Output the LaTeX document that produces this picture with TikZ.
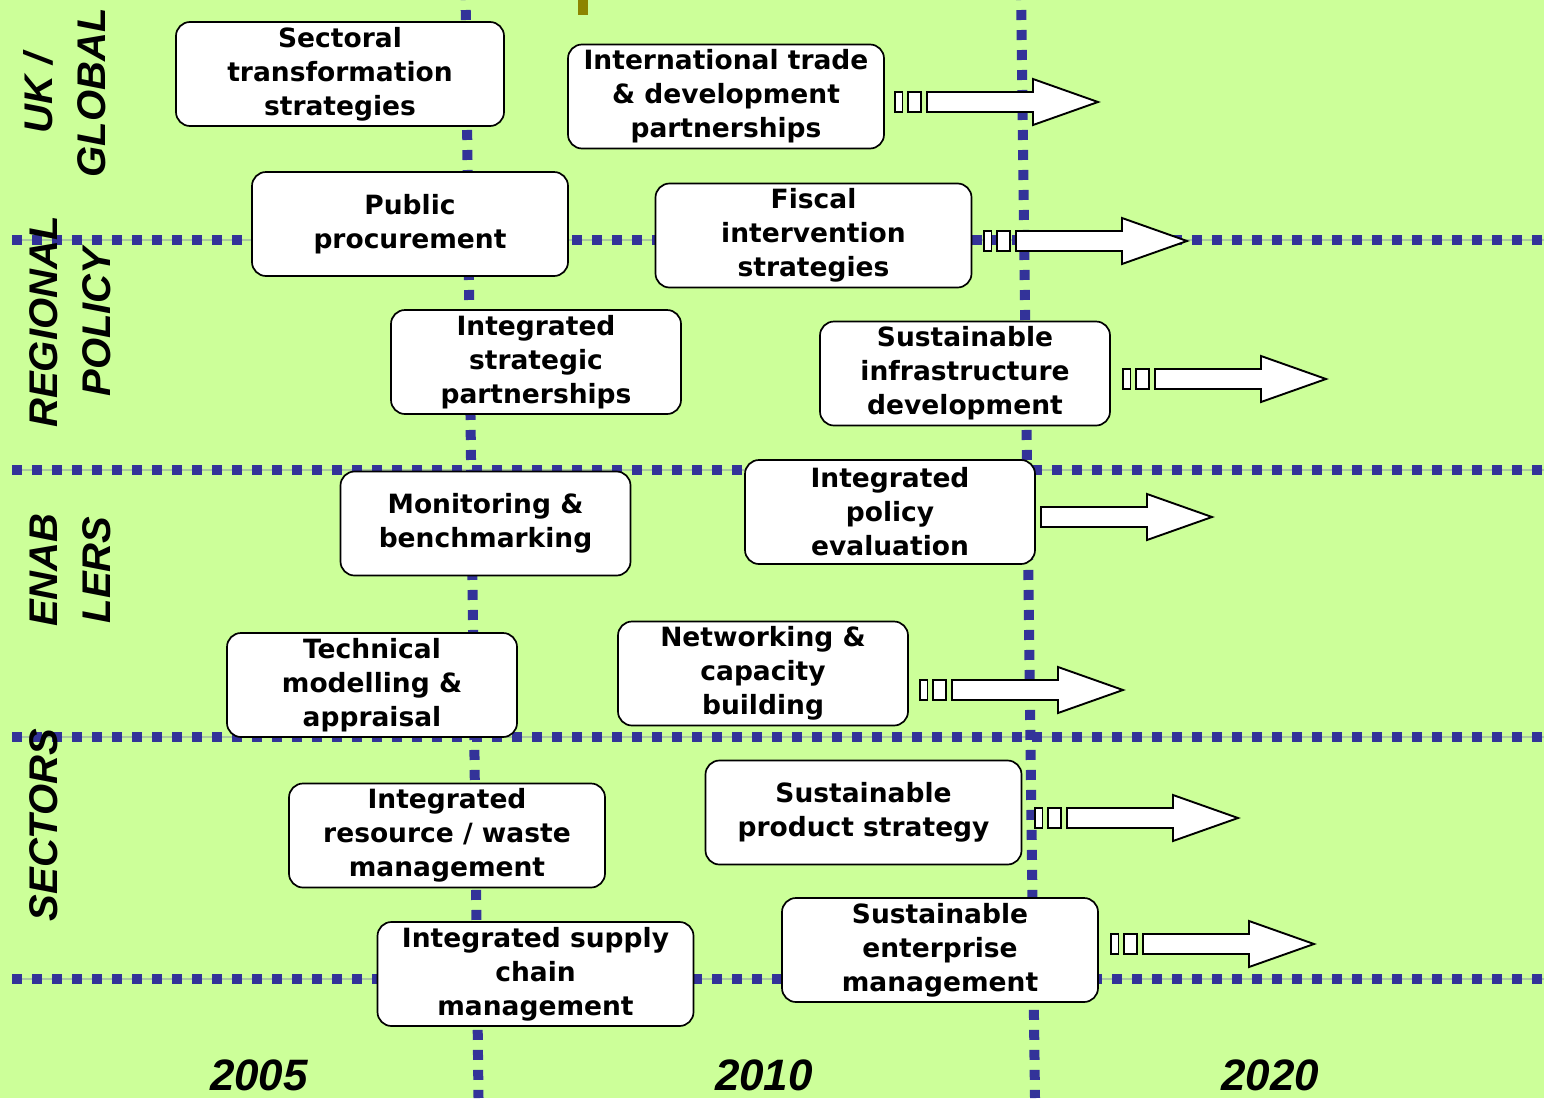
\documentclass[tikz,border=0pt]{standalone}
\usepackage{fontspec}
\setmainfont{DejaVu Sans}
\newfontfamily\labfont{Liberation Sans}
\definecolor{bggreen}{HTML}{CCFF99}
\definecolor{dotblue}{HTML}{333399}
\definecolor{faintline}{HTML}{A9C9A0}
\definecolor{olivemark}{HTML}{8C8500}
\begin{document}
\begin{tikzpicture}[x=1pt,y=-1pt,
  box/.style={draw=black, line width=1.7pt, fill=white, rounded corners=14pt,
    minimum height=104pt, inner sep=0pt, align=center,
    font=\fontsize{26.5}{34}\selectfont\bfseries},
  wide/.style={box, minimum width=316pt},
  narrow/.style={box, minimum width=290pt},
  hdots/.style={dotblue, line width=10pt, dash pattern=on 10pt off 10pt},
  vdots/.style={dotblue, line width=10pt, dash pattern=on 10pt off 10pt},
  fline/.style={faintline, line width=1.5pt},
  arrowline/.style={draw=black, fill=white, line width=1.9pt, line join=miter},
  sidelabel/.style={rotate=90, align=center, inner sep=0pt,
    font=\labfont\fontsize{40}{53}\selectfont\bfseries\itshape},
  yearlabel/.style={anchor=base, inner sep=0pt,
    font=\labfont\fontsize{44}{44}\selectfont\bfseries\itshape},
  futarrow/.pic={
    \path[arrowline] (0,-10) rectangle (7.5,10);
    \path[arrowline] (13,-10) rectangle (26,10);
    \path[arrowline] (32,-10) -- (138,-10) -- (138,-23) -- (203,0) -- (138,23) -- (138,10) -- (32,10) -- cycle;
  },
  plainarrow/.pic={
    \path[arrowline] (32,-10) -- (138,-10) -- (138,-23) -- (203,0) -- (138,23) -- (138,10) -- (32,10) -- cycle;
  }
]
\useasboundingbox (0,0) rectangle (1544,1098);
\fill[bggreen] (0,0) rectangle (1544,1098);
\fill[olivemark] (578,0) rectangle (588,15);

% horizontal dotted lines
\foreach \yy in {240,470,737,979}{
  \draw[fline] (12,\yy) -- (1544,\yy);
  \draw[hdots] (12,\yy) -- (1544,\yy);
}
% vertical dotted lines
\draw[vdots] (465.5,-10) -- (478.5,1098);
\draw[vdots] (1021,-10) -- (1035,1098);

% side labels
\node[sidelabel] (lukg) at (65,93) {UK /\\GLOBAL};
\node[sidelabel] (lreg) at (70,322) {REGIONAL\\POLICY};
\node[sidelabel] (lena) at (70,570) {ENAB\\LERS};
\node[sidelabel] (lsec) at (44,825) {SECTORS};

% boxes
\node[box, minimum width=328pt] (sect) at (340,74) {Sectoral\\transformation\\strategies};
\node[wide] (intl) at (726,96.5) {International trade\\\& development\\partnerships};
\node[wide] (proc) at (410,224) {Public\\procurement};
\node[wide] (fisc) at (813.5,235.5) {Fiscal\\intervention\\strategies};
\node[narrow] (isp) at (536,362) {Integrated\\strategic\\partnerships};
\node[narrow] (sid) at (965,373.5) {Sustainable\\infrastructure\\development};
\node[narrow] (mon) at (485.5,523.5) {Monitoring \&\\benchmarking};
\node[narrow] (ipe) at (890,512) {Integrated\\policy\\evaluation};
\node[narrow] (tech) at (372,685) {Technical\\modelling \&\\appraisal};
\node[narrow] (netw) at (763,673.5) {Networking \&\\capacity\\building};
\node[wide] (irw) at (447,835.5) {Integrated\\resource / waste\\management};
\node[wide] (sps) at (863.5,812.5) {Sustainable\\product strategy};
\node[wide] (iscm) at (535.5,974) {Integrated supply\\chain\\management};
\node[wide] (sem) at (940,950) {Sustainable\\enterprise\\management};

% future arrows
\pic at (895,102) {futarrow};
\pic at (984,241) {futarrow};
\pic at (1123,379) {futarrow};
\pic at (1009,517) {plainarrow};
\pic at (920,690) {futarrow};
\pic at (1035,818) {futarrow};
\pic at (1111,944) {futarrow};

% years
\node[yearlabel] (y05) at (259,1090) {2005};
\node[yearlabel] (y10) at (764,1090) {2010};
\node[yearlabel] (y20) at (1270,1090) {2020};
\end{tikzpicture}
\end{document}
